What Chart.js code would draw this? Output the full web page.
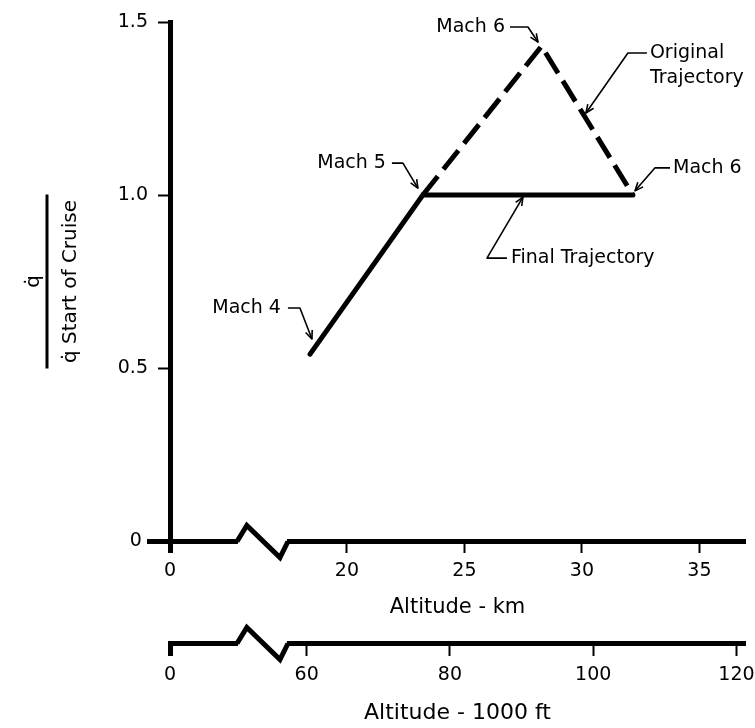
<!DOCTYPE html>
<html>
<head>
<meta charset="utf-8">
<script src="https://cdn.jsdelivr.net/npm/chart.js@4.4.0/dist/chart.umd.min.js"></script>
<style>
    html, body { margin: 0; padding: 0; background: #fff; }
    #wrap { width: 755px; height: 728px; }
</style>
</head>
<body>
<div id="wrap"><canvas id="myChart" width="755" height="728"></canvas></div>
<script>
// values
var kmTicks = [20, 25, 30, 35]
var ftTicks = [60, 80, 100, 120]
var qTicks = [0, 0.5, 1.0, 1.5]

var finalKm = [18.43, 23.23, 32.17]
var finalQ = [0.54, 1.0, 1.0]
var originalKm = [23.23, 28.28, 32.17]
var originalQ = [1.0, 1.43, 1.0]

// callouts: text and the point the arrow touches
var calloutText = ["Mach 4", "Mach 5", "Mach 6", "Original|Trajectory", "Mach 6", "Final Trajectory"]
var calloutKm = [18.51, 23.02, 28.13, 30.17, 32.26, 27.49]
var calloutQ = [0.584, 1.02, 1.442, 1.237, 1.012, 0.994]

// visible part of the km axis (left end is the broken "0")
var KM_MIN = 12.47
var KM_MAX = 36.94
var FT_PER_KM = 3.28084
var breakKm = [15.32, 15.74, 17.15, 17.49]

// pixel offsets of leader lines / text relative to the arrow tip
var calloutLayout = [
    { start: [-24, -31], elbow: [-12, -31], text: [-31, -31], align: "right" },
    { start: [-26, -25], elbow: [-15, -25], text: [-32, -25], align: "right" },
    { start: [-28, -15], elbow: [-10, -15], text: [-33, -15], align: "right" },
    { start: [61, -60], elbow: [42, -60], text: [64, -60], align: "left" },
    { start: [35, -23], elbow: [20, -23], text: [38, -23], align: "left" },
    { start: [-16, 61], elbow: [-36, 61], text: [-12, 61], align: "left" },
]

var FONT = "'DejaVu Sans', 'Liberation Sans', sans-serif"

function toPoints(xs, ys) {
    return xs.map(function (v, i) { return { x: v, y: ys[i] } })
}

function drawBreak(ctx, scale, vals, amp) {
    var yb = scale.top + 0.5
    var p = vals.map(function (v) { return scale.getPixelForValue(v) })
    ctx.fillStyle = "#fff"
    ctx.fillRect(p[0] + 1, yb - 4, p[3] - p[0] - 2, 8)
    ctx.beginPath()
    ctx.moveTo(p[0], yb)
    ctx.lineTo(p[1], yb - amp)
    ctx.lineTo(p[2], yb + amp)
    ctx.lineTo(p[3], yb)
    ctx.lineWidth = 5
    ctx.lineJoin = "miter"
    ctx.strokeStyle = "#000"
    ctx.stroke()
}

function drawCallout(ctx, tip, lay, text) {
    var sx = tip.x + lay.start[0], sy = tip.y + lay.start[1]
    var ex = tip.x + lay.elbow[0], ey = tip.y + lay.elbow[1]
    ctx.strokeStyle = "#000"
    ctx.lineWidth = 1.6
    ctx.lineJoin = "round"
    ctx.beginPath()
    ctx.moveTo(sx, sy)
    ctx.lineTo(ex, ey)
    ctx.lineTo(tip.x, tip.y)
    ctx.stroke()

    var ang = Math.atan2(tip.y - ey, tip.x - ex)
    ctx.beginPath()
    ctx.moveTo(tip.x - 9 * Math.cos(ang - 0.4), tip.y - 9 * Math.sin(ang - 0.4))
    ctx.lineTo(tip.x, tip.y)
    ctx.lineTo(tip.x - 9 * Math.cos(ang + 0.4), tip.y - 9 * Math.sin(ang + 0.4))
    ctx.stroke()

    ctx.fillStyle = "#000"
    ctx.font = "19px " + FONT
    ctx.textAlign = lay.align
    ctx.textBaseline = "middle"
    text.split("|").forEach(function (line, i) {
        ctx.fillText(line, tip.x + lay.text[0], tip.y + lay.text[1] + i * 25)
    })
}

var decorations = {
    id: "decorations",
    beforeDraw: function (chart) {
        var ctx = chart.ctx
        ctx.save()
        ctx.fillStyle = "#fff"
        ctx.fillRect(0, 0, chart.width, chart.height)
        ctx.restore()
    },
    afterDraw: function (chart) {
        var ctx = chart.ctx
        var x = chart.scales.x, x2 = chart.scales.x2, y = chart.scales.y
        var area = chart.chartArea
        ctx.save()

        // zero line runs a bit past the axis on the left
        var y0 = y.getPixelForValue(0)
        ctx.fillStyle = "#000"
        ctx.fillRect(area.left - 23, y0 - 2, 12, 5)

        drawBreak(ctx, x, breakKm, 16)
        drawBreak(ctx, x2, breakKm.map(function (v) { return v * FT_PER_KM }), 16)

        // y title as a fraction
        var cy = (area.top + area.bottom) / 2
        ctx.translate(0, cy)
        ctx.rotate(-Math.PI / 2)
        ctx.fillStyle = "#000"
        ctx.font = "20px " + FONT
        ctx.textAlign = "center"
        ctx.textBaseline = "middle"
        ctx.fillText("q\u0307", 0, 34)
        ctx.fillRect(-87, 45.5, 174, 3)
        ctx.fillText("q\u0307 Start of Cruise", 0, 71)
        ctx.setTransform(1, 0, 0, 1, 0, 0)

        for (var i = 0; i < calloutText.length; i++) {
            var tip = { x: x.getPixelForValue(calloutKm[i]), y: y.getPixelForValue(calloutQ[i]) }
            drawCallout(ctx, tip, calloutLayout[i], calloutText[i])
        }
        ctx.restore()
    }
}

function axisTicks(minValue, list) {
    return function (scale) {
        scale.ticks = [minValue].concat(list).map(function (v) { return { value: v } })
    }
}

function fixHeight(h) {
    return function (scale) {
        scale.height = h
        scale.paddingLeft = 0
        scale.paddingRight = 0
    }
}

var ctx = document.getElementById("myChart").getContext("2d")
var chart = new Chart(ctx, {
    type: "scatter",
    data: {
        datasets: [{
            label: "Final Trajectory",
            data: toPoints(finalKm, finalQ),
            showLine: true,
            borderColor: "#000",
            borderWidth: 5,
            borderCapStyle: "round",
            borderJoinStyle: "miter",
            pointRadius: 0,
            fill: false,
        }, {
            label: "Original Trajectory",
            data: toPoints(originalKm, originalQ),
            showLine: true,
            borderColor: "#000",
            borderWidth: 5,
            borderDash: [24, 9],
            borderCapStyle: "butt",
            borderJoinStyle: "miter",
            pointRadius: 0,
            fill: false,
        }]
    },
    options: {
        responsive: false,
        maintainAspectRatio: false,
        animation: false,
        layout: { padding: { top: 22, right: 10, bottom: 0, left: 0 } },
        plugins: { legend: { display: false }, tooltip: { enabled: false } },
        scales: {
            x: {
                type: "linear",
                position: "bottom",
                weight: 0,
                min: KM_MIN,
                max: KM_MAX,
                afterBuildTicks: axisTicks(KM_MIN, kmTicks),
                afterFit: fixHeight(102),
                border: { display: true, color: "#000", width: 5 },
                grid: {
                    drawOnChartArea: false,
                    tickLength: 12,
                    tickColor: "#000",
                    tickWidth: function (c) { return c.tick && c.tick.value === KM_MIN ? 5 : 2 },
                },
                ticks: {
                    autoSkip: false,
                    maxRotation: 0,
                    padding: 7,
                    color: "#000",
                    font: { family: FONT, size: 19 },
                    callback: function (v) { return v === KM_MIN ? "0" : String(v) },
                },
                title: {
                    display: true,
                    text: "Altitude - km",
                    color: "#000",
                    font: { family: FONT, size: 21 },
                    padding: { top: 4, bottom: 23 },
                },
            },
            x2: {
                type: "linear",
                position: "bottom",
                weight: 1,
                min: KM_MIN * FT_PER_KM,
                max: KM_MAX * FT_PER_KM,
                afterBuildTicks: axisTicks(KM_MIN * FT_PER_KM, ftTicks),
                afterFit: fixHeight(85),
                border: { display: true, color: "#000", width: 5 },
                grid: {
                    drawOnChartArea: false,
                    tickLength: 13,
                    tickColor: "#000",
                    tickWidth: function (c) { return c.tick && c.tick.value === KM_MIN * FT_PER_KM ? 5 : 2 },
                },
                ticks: {
                    autoSkip: false,
                    maxRotation: 0,
                    padding: 8,
                    color: "#000",
                    font: { family: FONT, size: 19 },
                    callback: function (v) { return v === KM_MIN * FT_PER_KM ? "0" : String(v) },
                },
                title: {
                    display: true,
                    text: "Altitude - 1000 ft",
                    color: "#000",
                    font: { family: FONT, size: 22 },
                    padding: { top: 2, bottom: 2 },
                },
            },
            y: {
                type: "linear",
                min: 0,
                max: 1.5,
                afterBuildTicks: function (scale) {
                    scale.ticks = qTicks.map(function (v) { return { value: v } })
                },
                afterFit: function (scale) { scale.width = 170 },
                border: { display: true, color: "#000", width: 5 },
                grid: {
                    drawOnChartArea: false,
                    tickLength: 12,
                    tickColor: "#000",
                    tickWidth: function (c) { return c.tick && c.tick.value === 0 ? 5 : 2 },
                },
                ticks: {
                    padding: 10,
                    color: "#000",
                    font: { family: FONT, size: 19 },
                    callback: function (v) { return v === 0 ? "0 " : v.toFixed(1) },
                },
            },
        }
    },
    plugins: [decorations]
})
</script>
</body>
</html>
